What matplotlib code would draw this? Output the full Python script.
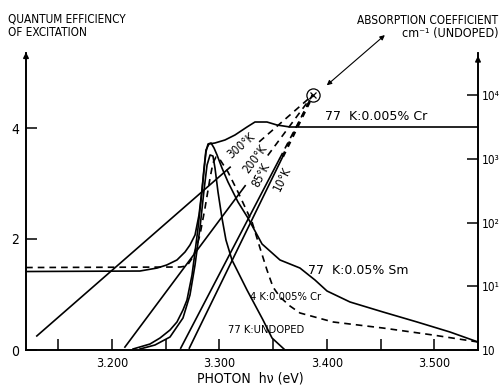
import matplotlib
matplotlib.use('Agg')
import matplotlib.pyplot as plt
from matplotlib import font_manager
import numpy as np

# quantum efficiency of excitation (left axis) against photon energy (eV)
cr77_e = [3.120, 3.226, 3.242, 3.251, 3.2605, 3.268, 3.2726, 3.2773, 3.281, 3.2838, 3.2857,
          3.2875, 3.2903, 3.2959, 3.3052, 3.3145, 3.3257, 3.3331, 3.3443, 3.3536, 3.3657, 3.5408]
cr77_q = [1.414, 1.423, 1.477, 1.532, 1.622, 1.766, 1.892, 2.072, 2.432, 2.883, 3.279,
          3.604, 3.712, 3.730, 3.784, 3.874, 4.018, 4.108, 4.108, 4.054, 4.018, 4.018]

sm77_e = [3.2196, 3.2354, 3.2447, 3.254, 3.2605, 3.2661, 3.2698, 3.2745, 3.2773, 3.2801, 3.2829,
          3.2857, 3.2875, 3.2894, 3.2922, 3.295, 3.2978, 3.3024, 3.308, 3.3173, 3.3266, 3.3397,
          3.3564, 3.375, 3.389, 3.4002, 3.4216, 3.4523, 3.484, 3.5147, 3.5408]
sm77_q = [0.018, 0.108, 0.216, 0.36, 0.505, 0.721, 0.90, 1.351, 1.766, 2.198, 2.703,
          3.243, 3.568, 3.712, 3.730, 3.64, 3.514, 3.279, 3.027, 2.667, 2.378, 1.91,
          1.622, 1.477, 1.261, 1.063, 0.865, 0.685, 0.505, 0.324, 0.144]

und77_e = [3.2261, 3.240, 3.254, 3.2661, 3.2726, 3.2773, 3.2819, 3.2857, 3.2885, 3.2913, 3.294,
           3.2959, 3.2987, 3.3024, 3.3061, 3.3117, 3.3257, 3.3406, 3.349, 3.3611]
und77_q = [0.018, 0.09, 0.234, 0.577, 0.991, 1.532, 2.198, 2.883, 3.333, 3.514, 3.495,
           3.279, 2.847, 2.378, 1.982, 1.622, 1.081, 0.541, 0.216, 0.0]

cr4_e = [3.120, 3.2633, 3.2698, 3.2754, 3.2791, 3.2819, 3.2866, 3.2913, 3.294, 3.2968, 3.2996,
         3.308, 3.3173, 3.3238, 3.3304, 3.3378, 3.3443, 3.3499, 3.3564, 3.3657, 3.375, 3.4058,
         3.4523, 3.4989, 3.5408]
cr4_q = [1.486, 1.495, 1.514, 1.676, 1.892, 2.072, 2.559, 3.099, 3.369, 3.477, 3.459,
         3.207, 2.847, 2.577, 2.306, 1.838, 1.441, 1.135, 0.955, 0.793, 0.667, 0.505,
         0.396, 0.270, 0.144]

# absorption edges of the undoped crystal (right axis), all meeting at one focus
edge_temps = ['300°K', '200°K', '85°K', '10°K']
edge_start_e = [3.130, 3.212, 3.264, 3.272]
edge_start_a = [1.66, 1.11, 1.07, 1.07]
edge_solid_end = [3.310, 3.324, 3.356, 3.359]
edge_dash_start = [3.337, 3.345, 3.356, 3.359]
edge_label_e = [3.3205, 3.3335, 3.3385, 3.3585]
edge_label_a = [1600, 1000, 560, 480]
focus_e, focus_a = 3.387, 1.0e4

x_ticks = [3.2, 3.3, 3.4, 3.5]
x_minor = [3.15, 3.25, 3.35, 3.45]
x_labels = ['3.200', '3.300', '3.400', '3.500']
q_ticks = [0, 2, 4]
a_ticks = [1, 10, 100, 1000, 10000]
a_labels = ['10', '10¹', '10²', '10³', '10⁴']

W, H = 499, 388
have = {f.name for f in font_manager.fontManager.ttflist}
COND = ['Liberation Sans Narrow', 'DejaVu Sans'] if 'Liberation Sans Narrow' in have else ['DejaVu Sans']


def edge_points(i, e_from, e_to):
    e0 = edge_start_e[i]
    l0 = np.log10(edge_start_a[i])
    t = (np.array([e_from, e_to]) - e0) / (focus_e - e0)
    return [e_from, e_to], 10 ** (l0 + t * (np.log10(focus_a) - l0))


fig = plt.figure(figsize=(W / 100, H / 100), dpi=100)
ax = fig.add_axes([26 / W, 38 / H, 452 / W, 297 / H])
ax2 = ax.twinx()

ax.set_xlim(3.11993, 3.54078)
ax.set_ylim(0, 297 / 55.5)
ax2.set_yscale('log')
ax2.set_ylim(1, 10 ** (297 / 63.75))

lw = 1.2
ax.plot(cr77_e, cr77_q, color='black', lw=lw)
ax.plot(sm77_e, sm77_q, color='black', lw=lw)
ax.plot(und77_e, und77_q, color='black', lw=lw)
ax.plot(cr4_e, cr4_q, color='black', lw=lw, dashes=(4, 3))

for i in range(len(edge_temps)):
    xs, ys = edge_points(i, edge_start_e[i], edge_solid_end[i])
    ax2.plot(xs, ys, color='black', lw=lw)
    xs, ys = edge_points(i, edge_dash_start[i], focus_e)
    if i == 3:
        ax2.plot(xs, ys, color='black', lw=2.0, dashes=(2, 2))
    else:
        ax2.plot(xs, ys, color='black', lw=lw, dashes=(4, 3))
    p = ax2.transData.transform(np.column_stack(edge_points(i, edge_start_e[i], focus_e)))
    ang = np.degrees(np.arctan2(p[1, 1] - p[0, 1], p[1, 0] - p[0, 0]))
    ax2.text(edge_label_e[i], edge_label_a[i], edge_temps[i], rotation=ang, ha='center', va='center',
             rotation_mode='anchor', fontsize=8.5, family=COND, fontstretch='condensed')

ax2.plot([focus_e], [focus_a], marker='o', ms=9.5, mfc='none', mec='black', mew=0.9)
ax2.plot([focus_e], [focus_a], marker='x', ms=4, color='black', mew=0.9)
ax2.annotate('', xy=(3.398, 13300), xytext=(3.456, 93000), annotation_clip=False,
             arrowprops=dict(arrowstyle='<|-|>', color='black', lw=0.8, mutation_scale=7))

# curve labels
ax.text(3.398, 4.2, '77  K:0.005% Cr', fontsize=9, ha='left', va='center')
ax.text(3.3828, 1.44, '77  K:0.05% Sm', fontsize=9, ha='left', va='center')
ax.text(3.3285, 0.955, '4 K:0.005% Cr', fontsize=8, ha='left', va='center', family=COND,
        fontstretch='condensed')
ax.text(3.308, 0.36, '77 K:UNDOPED', fontsize=8, ha='left', va='center', family=COND,
        fontstretch='condensed')

for a in (ax, ax2):
    a.spines['top'].set_visible(False)
    for s in a.spines.values():
        s.set_linewidth(1.2)

ax.set_xticks(x_ticks)
ax.set_xticklabels(x_labels, family=COND, fontstretch='condensed', fontsize=9)
ax.set_xticks(x_minor, minor=True)
ax.set_yticks(q_ticks)
ax.set_yticklabels([str(v) for v in q_ticks], family=COND, fontstretch='condensed', fontsize=10)
ax.tick_params(axis='both', which='both', direction='in', length=8, width=1.1)
ax.tick_params(axis='x', pad=5)
ax.tick_params(axis='y', pad=5)
ax.tick_params(axis='x', which='both', top=False)

ax2.set_yticks(a_ticks)
ax2.set_yticklabels(a_labels, fontsize=8.5, family=COND, fontstretch='condensed')
ax2.yaxis.set_minor_locator(matplotlib.ticker.NullLocator())
ax2.tick_params(axis='y', direction='in', length=8, width=1.1, pad=2.5)

# arrow heads on the vertical axes
ax.annotate('', xy=(0, 1.012), xytext=(0, 0.98), xycoords='axes fraction', annotation_clip=False,
            arrowprops=dict(arrowstyle='-|>', color='black', lw=1.1, mutation_scale=8))
ax.annotate('', xy=(1, 1.0), xytext=(1, 0.97), xycoords='axes fraction', annotation_clip=False,
            arrowprops=dict(arrowstyle='-|>', color='black', lw=1.1, mutation_scale=8))

fig.text(8 / W, 1 - 19.5 / H, 'QUANTUM EFFICIENCY', fontsize=8.5, family=COND, fontstretch='condensed',
         ha='left', va='center')
fig.text(8 / W, 1 - 33 / H, 'OF EXCITATION', fontsize=8.5, family=COND, fontstretch='condensed',
         ha='left', va='center')
fig.text(498 / W, 1 - 20 / H, 'ABSORPTION COEFFICIENT', fontsize=8.5, family=COND,
         fontstretch='condensed', ha='right', va='center')
fig.text(498 / W, 1 - 34 / H, 'cm⁻¹ (UNDOPED)', fontsize=9, family=COND,
         fontstretch='condensed', ha='right', va='center')
fig.text(250 / W, 1 - 378 / H, 'PHOTON  hν (eV)', fontsize=10, family=COND, fontstretch='condensed',
         ha='center', va='center')

fig.savefig('out.png', dpi=100)
